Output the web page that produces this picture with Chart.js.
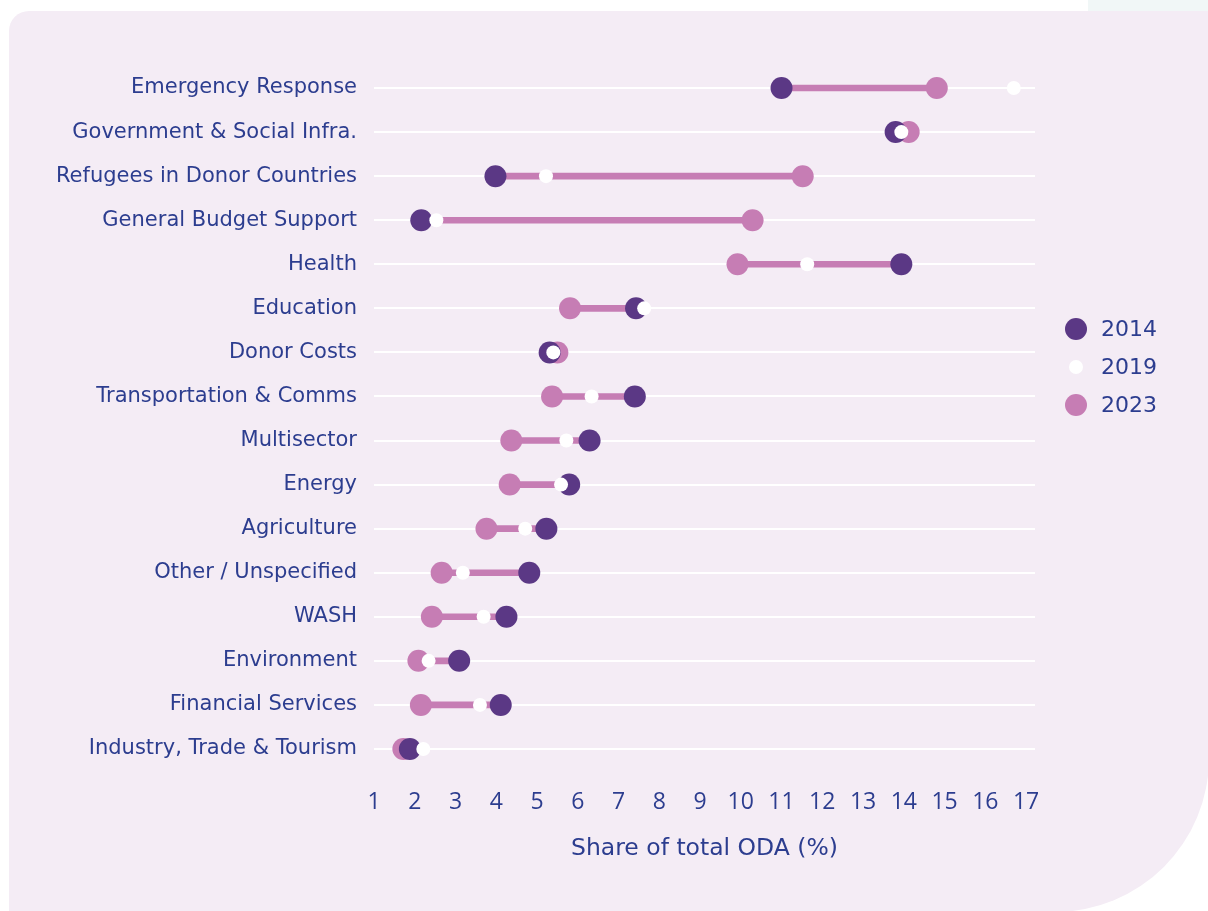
<!DOCTYPE html>
<html>
<head>
<meta charset="utf-8">
<script src="https://cdn.jsdelivr.net/npm/chart.js@4.4.1/dist/chart.umd.min.js"></script>
<style>
    body { margin: 0; background: #ffffff; width: 1208px; height: 911px; overflow: hidden; position: relative; font-family: "DejaVu Sans", sans-serif; }
    .strip { position: absolute; left: 1088px; top: 0; width: 120px; height: 11px; background: #f1f7f7; }
    .panel { position: absolute; left: 9px; top: 11px; width: 1200px; height: 901px; background: #f4ecf5; border-top-left-radius: 20px; border-bottom-right-radius: 154px; }
    #chart { position: absolute; left: 0; top: 0; }
    .legend { position: absolute; left: 1060px; top: 310px; color: #2c3d8f; font-size: 22px; }
    .legend div { height: 38px; line-height: 38px; position: relative; padding-left: 41px; }
    .legend span { position: absolute; border-radius: 50%; top: 50%; transform: translate(-50%, -50%); left: 16px; }
</style>
</head>
<body>
<div class="strip"></div>
<div class="panel"></div>
<canvas id="chart" width="1208" height="911"></canvas>
<div class="legend" id="legend"></div>
<script>
const categories = [
    'Emergency Response', 'Government & Social Infra.', 'Refugees in Donor Countries',
    'General Budget Support', 'Health', 'Education', 'Donor Costs', 'Transportation & Comms',
    'Multisector', 'Energy', 'Agriculture', 'Other / Unspecified', 'WASH', 'Environment',
    'Financial Services', 'Industry, Trade & Tourism'
];
const values2014 = [11.0, 13.8, 3.98, 2.16, 13.94, 7.43, 5.31, 7.4, 6.29, 5.79, 5.23, 4.81, 4.25, 3.09, 4.11, 1.88];
const values2019 = [16.7, 13.94, 5.22, 2.53, 11.63, 7.63, 5.4, 6.34, 5.72, 5.59, 4.71, 3.18, 3.69, 2.34, 3.6, 2.21];
const values2023 = [14.81, 14.12, 11.52, 10.29, 9.92, 5.81, 5.5, 5.37, 4.37, 4.33, 3.76, 2.66, 2.42, 2.09, 2.15, 1.72];
const seriesNames = ['2014', '2019', '2023'];
const xMin = 1;
const xMax = 17;
const axisTitle = 'Share of total ODA (%)';

const dark = '#5b3885';
const pink = '#c67db4';
const white = '#ffffff';
const textColor = '#2c3d8f';

// legend in html, dots drawn with the same colours as the series
const legendItems = [
    { name: seriesNames[0], color: dark, size: 22 },
    { name: seriesNames[1], color: white, size: 14 },
    { name: seriesNames[2], color: pink, size: 22 }
];
document.getElementById('legend').innerHTML = legendItems.map(item =>
    `<div><span style="background:${item.color};width:${item.size}px;height:${item.size}px"></span>${item.name}</div>`
).join('');

const ranges = values2014.map((v, i) => [v, values2023[i]]);

const pointSet = (label, data, color, radius) => ({
    type: 'line',
    label: label,
    data: data,
    showLine: false,
    pointRadius: radius,
    pointHoverRadius: radius,
    pointBackgroundColor: color,
    pointBorderWidth: 0,
    borderColor: color,
    clip: false
});

new Chart(document.getElementById('chart').getContext('2d'), {
    type: 'bar',
    data: {
        labels: categories,
        datasets: [
            pointSet(seriesNames[1], values2019, white, 7),
            pointSet(seriesNames[0], values2014, dark, 11),
            pointSet(seriesNames[2], values2023, pink, 11),
            {
                type: 'bar',
                label: 'change',
                data: ranges,
                backgroundColor: pink,
                barThickness: 6,
                borderSkipped: false
            }
        ]
    },
    options: {
        indexAxis: 'y',
        responsive: false,
        animation: false,
        layout: {
            padding: { left: 0, right: 173, top: 66, bottom: 30 }
        },
        plugins: {
            legend: { display: false },
            tooltip: { enabled: false }
        },
        scales: {
            x: {
                type: 'linear',
                min: xMin,
                max: xMax + 0.22,
                border: { display: false },
                grid: { display: false },
                ticks: {
                    stepSize: 1,
                    includeBounds: false,
                    padding: 10,
                    color: textColor,
                    font: { family: 'Open Sans', size: 23 }
                },
                title: {
                    display: true,
                    text: axisTitle,
                    color: textColor,
                    padding: { top: 0, bottom: 18 },
                    font: { family: 'DejaVu Sans', size: 23.5 }
                },
                afterFit: (scale) => { scale.height = 110; }
            },
            y: {
                type: 'category',
                border: { display: false },
                grid: {
                    offset: false,
                    color: white,
                    lineWidth: 2,
                    drawTicks: false
                },
                ticks: {
                    padding: 17,
                    color: textColor,
                    font: { family: 'DejaVu Sans', size: 21 }
                },
                afterFit: (scale) => { scale.width = 374; }
            }
        }
    }
});
</script>
</body>
</html>
